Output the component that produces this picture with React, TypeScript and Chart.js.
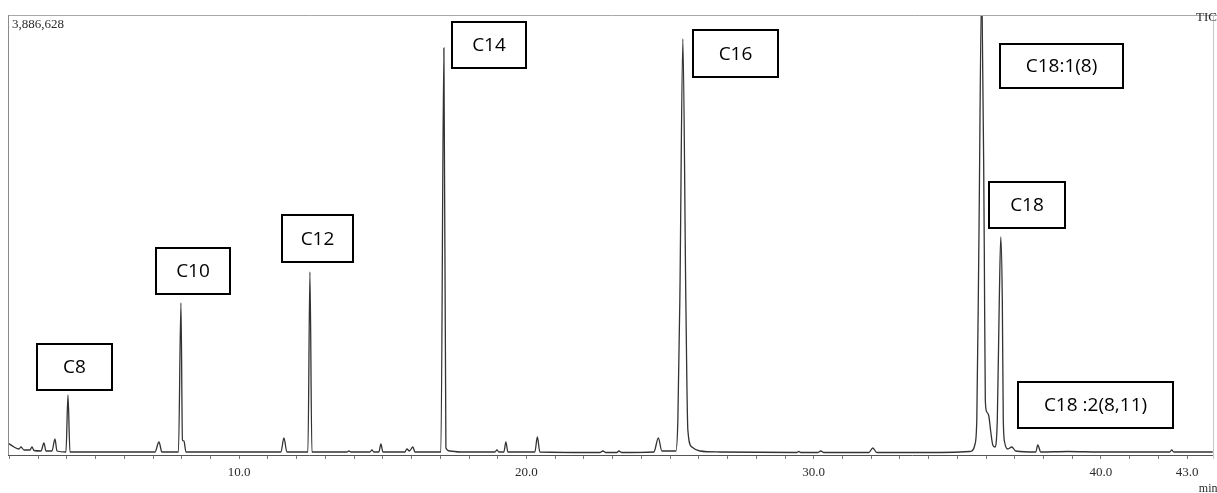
import React, { useEffect, useRef } from 'react';
import { Chart, registerables } from 'chart.js';

Chart.register(...registerables);

// ---- Data (retention time in min, TIC counts) ----
const retentionTimes = [
  1.949, 2.158, 2.332, 2.402, 2.506, 2.715, 2.785, 2.854, 3.098, 3.202, 3.272, 3.481, 3.585, 3.655,
  3.968, 4.038, 4.107, 7.066, 7.205, 7.309, 7.884, 7.971, 8.023, 8.075, 8.145, 11.451, 11.556, 11.66,
  12.391, 12.461, 12.53, 13.749, 13.818, 13.888, 14.549, 14.619, 14.688, 14.862, 14.932, 15.002,
  15.767, 15.837, 15.924, 16.046, 16.116, 17.02, 17.125, 17.195, 17.334, 17.682, 18.9, 18.97, 19.039,
  19.213, 19.283, 19.352, 20.292, 20.379, 20.466, 22.555, 22.659, 22.764, 23.146, 23.216, 23.32,
  24.434, 24.591, 24.713, 25.2, 25.27, 25.339, 25.444, 25.548, 25.618, 25.757, 26.035, 26.732,
  29.412, 29.481, 29.551, 30.143, 30.247, 30.352, 31.918, 32.057, 32.196, 34.389, 35.433, 35.503,
  35.607, 35.677, 35.747, 35.851, 35.938, 35.973, 36.025, 36.095, 36.164, 36.234, 36.304, 36.391,
  36.46, 36.512, 36.565, 36.599, 36.652, 36.756, 36.895, 37.034, 37.731, 37.8, 37.904, 38.844,
  39.958, 42.394, 42.464, 42.534, 43.891,
];

const intensities = [
  106000, 70700, 53000, 70700, 44200, 44200, 70700, 39700, 35300, 106000, 35300, 35300, 141300, 35300,
  26500, 530000, 26500, 26500, 114800, 26500, 26500, 1342600, 132500, 123700, 26500, 26500, 150200, 26500,
  26500, 1616400, 26500, 26500, 35300, 26500, 26500, 44200, 26500, 26500, 97200, 26500,
  26500, 53000, 35300, 70700, 26500, 26500, 3595000, 61800, 35300, 26500, 26500, 44200, 26500,
  26500, 114800, 26500, 26500, 159000, 26500, 22100, 35300, 22100, 22100, 35300, 22100,
  26500, 150200, 35300, 35300, 309200, 1369100, 3674500, 1369100, 220800, 70700, 35300, 26500,
  22100, 30900, 22100, 22100, 35300, 22100, 22100, 61800, 22100, 22100, 30900, 35300,
  88300, 309200, 1810800, 4200000, 1810800, 485800, 379800, 344500, 203200, 88300, 70700, 309200,
  1369100, 1925600, 1369100, 309200, 106000, 53000, 70700, 35300, 26500, 88300, 26500, 30900,
  26500, 26500, 44200, 26500, 26500,
];

const FULL_SCALE = 3886628;
const X_MIN = 1.95;
const X_MAX = 43.9;
const majorTickLabels = [10, 20, 30, 40, 43];

// Peak label boxes (data coordinates: time range, intensity range)
const peakNames = ['C8', 'C10', 'C12', 'C14', 'C16', 'C18:1(8)', 'C18', 'C18 :2(8,11)'];
const boxTimeStart = [2.959, 7.1, 11.486, 17.403, 25.792, 36.477, 36.094, 37.104];
const boxTimeEnd = [5.569, 9.676, 13.958, 19.979, 28.751, 40.759, 38.74, 42.499];
const boxTop = [980500, 1828400, 2119900, 3824800, 3754000, 3630400, 2411400, 644800];
const boxBottom = [574100, 1422100, 1704800, 3418400, 3338900, 3241700, 2005100, 238500];

const SERIF = "'Liberation Serif', 'Times New Roman', serif";
const SANS = "'Open Sans', 'Noto Sans', sans-serif";

const overlayPlugin = {
  id: 'overlay',
  beforeDraw(chart: any) {
    const ctx = chart.ctx;
    ctx.save();
    ctx.fillStyle = '#ffffff';
    ctx.fillRect(0, 0, chart.width, chart.height);
    ctx.restore();
  },
  afterDraw(chart: any) {
    const { ctx, chartArea: a, scales } = chart;
    const xs = scales.x;
    const ys = scales.y;
    ctx.save();
    // frame
    ctx.lineWidth = 1;
    ctx.strokeStyle = '#a8a8a8';
    ctx.beginPath();
    ctx.moveTo(a.left, Math.round(a.top) + 0.5);
    ctx.lineTo(chart.width, Math.round(a.top) + 0.5);
    ctx.stroke();
    ctx.strokeStyle = '#8a8a8a';
    ctx.beginPath();
    ctx.moveTo(Math.round(a.left) + 0.5, a.top);
    ctx.lineTo(Math.round(a.left) + 0.5, a.bottom);
    ctx.stroke();
    ctx.strokeStyle = '#c8c8c8';
    ctx.beginPath();
    ctx.moveTo(Math.round(a.right) + 0.5, a.top);
    ctx.lineTo(Math.round(a.right) + 0.5, a.bottom + 4);
    ctx.stroke();

    // header texts
    ctx.fillStyle = '#2a2a2a';
    ctx.font = `13px ${SERIF}`;
    ctx.textBaseline = 'middle';
    ctx.textAlign = 'left';
    ctx.fillText(FULL_SCALE.toLocaleString('en-US'), a.left + 4, a.top + 10);
    ctx.textAlign = 'right';
    ctx.fillText('TIC', chart.width, a.top + 3);
    ctx.textAlign = 'center';
    ctx.font = `12px ${SERIF}`;
    ctx.fillText('min', xs.getPixelForValue(43) + 21, 489);

    // peak label boxes
    ctx.font = `19px ${SANS}`;
    for (let i = 0; i < peakNames.length; i++) {
      const x0 = Math.round(xs.getPixelForValue(boxTimeStart[i]));
      const x1 = Math.round(xs.getPixelForValue(boxTimeEnd[i]));
      const y0 = Math.round(ys.getPixelForValue(boxTop[i]));
      const y1 = Math.round(ys.getPixelForValue(boxBottom[i]));
      ctx.fillStyle = '#ffffff';
      ctx.fillRect(x0, y0, x1 - x0, y1 - y0);
      ctx.strokeStyle = '#000000';
      ctx.lineWidth = 2;
      ctx.strokeRect(x0, y0, x1 - x0, y1 - y0);
      ctx.fillStyle = '#000000';
      ctx.textAlign = 'center';
      ctx.textBaseline = 'middle';
      ctx.fillText(peakNames[i], (x0 + x1) / 2, (y0 + y1) / 2 + 1);
    }
    ctx.restore();
  },
};

export default function App() {
  const canvasRef = useRef<HTMLCanvasElement | null>(null);

  useEffect(() => {
    const canvas = canvasRef.current;
    if (!canvas) return;
    const points = retentionTimes.map((t, i) => ({ x: t, y: intensities[i] }));
    const chart = new Chart(canvas, {
      type: 'line',
      data: {
        datasets: [
          {
            label: 'TIC',
            data: points,
            borderColor: '#333333',
            borderWidth: 1.3,
            pointRadius: 0,
            fill: false,
            cubicInterpolationMode: 'monotone',
          },
        ],
      },
      options: {
        animation: false,
        responsive: false,
        maintainAspectRatio: false,
        parsing: false,
        layout: { padding: { top: 15, left: 8, right: 4, bottom: 6.4 } },
        plugins: { legend: { display: false }, tooltip: { enabled: false } },
        scales: {
          x: {
            type: 'linear',
            min: X_MIN,
            max: X_MAX,
            afterBuildTicks: (axis: any) => {
              const ticks = [];
              for (let v = Math.ceil(X_MIN); v <= Math.floor(X_MAX); v++) ticks.push({ value: v });
              axis.ticks = ticks;
            },
            ticks: {
              autoSkip: false,
              maxRotation: 0,
              padding: 6,
              color: '#2a2a2a',
              font: { family: SERIF, size: 13 },
              callback: (value: any) => (majorTickLabels.includes(Number(value)) ? Number(value).toFixed(1) : ''),
            },
            grid: {
              drawOnChartArea: false,
              drawTicks: true,
              tickLength: 4,
              color: '#777777',
            },
            border: { display: true, color: '#555555', width: 1 },
          },
          y: {
            display: false,
            min: 0,
            max: FULL_SCALE,
          },
        },
      },
      plugins: [overlayPlugin],
    } as any);
    return () => chart.destroy();
  }, []);

  return (
    <div style={{ position: 'absolute', left: 0, top: 0, width: 1217, height: 493, background: '#fff' }}>
      <canvas ref={canvasRef} width={1217} height={493} style={{ display: 'block' }} />
    </div>
  );
}
